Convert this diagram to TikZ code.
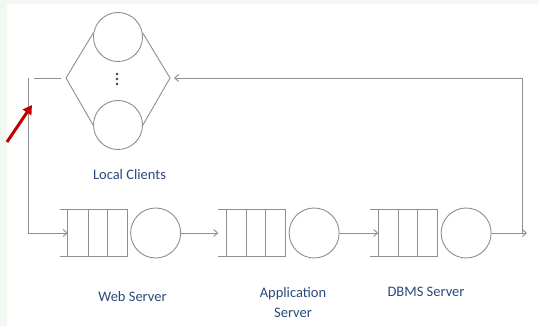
\documentclass[tikz,border=0pt]{standalone}
\usepackage{fontspec}
\setmainfont{Carlito}
\usetikzlibrary{arrows.meta,positioning,calc}
\definecolor{wire}{HTML}{8E8E8E}
\definecolor{ink}{HTML}{2B4A7A}
\definecolor{band}{HTML}{F1F7F1}
\definecolor{mark}{HTML}{C00000}
\tikzset{
  line/.style={draw=wire, line width=0.9pt},
  flow/.style={line, -{Straight Barb[length=4pt,width=7pt]}},
  server/.style={circle, draw=wire, line width=0.9pt, minimum size=50pt, inner sep=0pt},
  client/.style={server, minimum size=49pt},
  queue/.style={rectangle, minimum width=59pt, minimum height=47pt, inner sep=0pt},
  caption/.style={text=ink, align=center, font=\fontsize{14.5}{20}\selectfont},
  pointer/.style={draw=mark, line width=3pt, -{Triangle[length=9pt,width=10pt]}},
}

\begin{document}
\begin{tikzpicture}[x=1pt, y=-1pt, node distance=3pt]
    \useasboundingbox (0,0) rectangle (539,326);
    \fill[band] (0,0) rectangle (539,326);
    \fill[white] (7,4) rectangle (539,326);

    % local clients
    \node[client] (c1) at (118,37) {};
    \node[client] (c2) at (118,125) {};
    \coordinate (dl) at (66,78);
    \coordinate (dr) at (170,78);
    \coordinate (dots) at (117,79);
    \foreach \d in {-5,0,5}
      \fill[black!75] ($(dots)+(0,\d)$) circle (1.4pt);
    \node[caption] (lc) at (129.5,175) {Local Clients};

    % servers
    \node[queue] (q1) at (97.5,233) {};
    \node[server, right=of q1] (s1) {};
    \node[queue] (q2) at (256,233) {};
    \node[server, right=of q2] (s2) {};
    \node[queue] (q3) at (408,233) {};
    \node[server, right=of q3] (s3) {};
    \node[caption] (ws) at (132.5,297) {Web Server};
    \node[caption] (as) at (293,303) {Application\\Server};
    \node[caption] (ds) at (426,292) {DBMS Server};

    \foreach \q in {q1,q2,q3} {
      \draw[line] ($(\q.north west)+(-8,0)$) -- (\q.north east) -- (\q.south east) -- ($(\q.south west)+(-8,0)$);
      \foreach \f in {0,0.34,0.66}
        \draw[line] ($(\q.north west)!\f!(\q.north east)$) -- ($(\q.south west)!\f!(\q.south east)$);
    }

    % diamond
    \draw[line] (c1.170) -- (dl) -- (c2.west);
    \draw[line] (c1.10) -- (dr) -- (c2.east);

    % loop
    \coordinate (ret) at (28,78);
    \coordinate (stub) at (34,78);
    \coordinate (stubend) at (61,78);
    \coordinate (turn) at (522,233);
    \coordinate (out) at (527,233);
    \draw[line] (stub) -- (stubend);
    \draw[flow] (ret) |- (q1.west);
    \draw[flow] (s1) -- ($(q2.west)+(-8,0)$);
    \draw[flow] (s2) -- (q3.west);
    \draw[flow] (s3) -- (out);
    \draw[flow, shorten >=4pt] (turn) |- (dr);

    % red pointer
    \coordinate (tail) at (7,142);
    \coordinate (tip) at (32,105);
    \draw[pointer] (tail) -- (tip);
  \end{tikzpicture}
\end{document}
